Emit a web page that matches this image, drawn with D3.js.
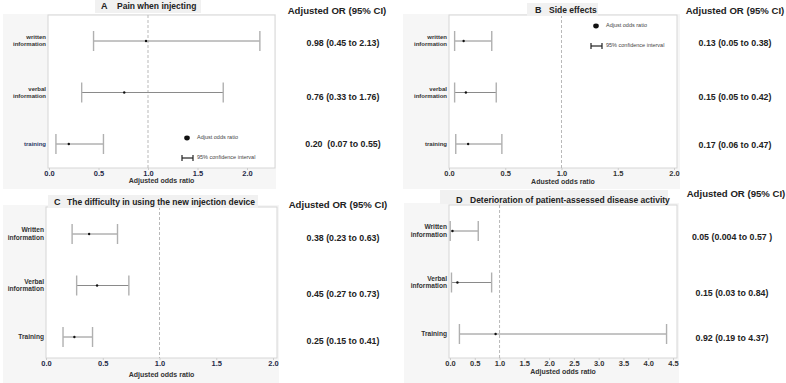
<!DOCTYPE html>
<html>
<head>
<meta charset="utf-8">
<script src="https://cdn.jsdelivr.net/npm/d3@7"></script>
<style>
  body { margin: 0; background: #fff; }
  svg { display: block; font-family: "Liberation Sans", Arial, sans-serif; }
  text { white-space: pre; }
</style>
</head>
<body>
<svg id="chart" width="786" height="383"></svg>
<script>
// categories
const categoriesLower = ["written information", "verbal information", "training"];
const categoriesUpper = ["Written information", "Verbal information", "Training"];

// A  pain when injecting
const painOR = [0.98, 0.76, 0.20];
const painLow = [0.45, 0.33, 0.07];
const painHigh = [2.13, 1.76, 0.55];
const painText = ["0.98 (0.45 to 2.13)", "0.76 (0.33 to 1.76)", "0.20  (0.07 to 0.55)"];

// B  side effects
const sideOR = [0.13, 0.15, 0.17];
const sideLow = [0.05, 0.05, 0.06];
const sideHigh = [0.38, 0.42, 0.47];
const sideText = ["0.13 (0.05 to 0.38)", "0.15 (0.05 to 0.42)", "0.17 (0.06 to 0.47)"];

// C  difficulty with device
const deviceOR = [0.38, 0.45, 0.25];
const deviceLow = [0.23, 0.27, 0.15];
const deviceHigh = [0.63, 0.73, 0.41];
const deviceText = ["0.38 (0.23 to 0.63)", "0.45 (0.27 to 0.73)", "0.25 (0.15 to 0.41)"];

// D  disease activity
const diseaseOR = [0.05, 0.15, 0.92];
const diseaseLow = [0.004, 0.03, 0.19];
const diseaseHigh = [0.57, 0.84, 4.37];
const diseaseText = ["0.05 (0.004 to 0.57 )", "0.15 (0.03 to 0.84)", "0.92 (0.19 to 4.37)"];

const ticks2 = [0, 0.5, 1.0, 1.5, 2.0];
const ticks45 = [0, 0.5, 1.0, 1.5, 2.0, 2.5, 3.0, 3.5, 4.0, 4.5];

const svg = d3.select("#chart");

const drawPanel = (p) => {
    const g = svg.append("g");

    // panel background + white plot area
    g.append("rect")
        .attr("x", p.bg[0]).attr("y", p.bg[1])
        .attr("width", p.bg[2] - p.bg[0]).attr("height", p.bg[3] - p.bg[1])
        .attr("fill", "#f6f6f6");
    g.append("rect")
        .attr("x", p.plot[0]).attr("y", p.plot[1])
        .attr("width", p.plot[2] - p.plot[0]).attr("height", p.plot[3] - p.plot[1])
        .attr("fill", "#fff")
        .attr("stroke", "#d6d6d6").attr("stroke-width", 1);

    const x = d3.scaleLinear().domain(p.domain).range(p.range);
    const y = d3.scalePoint().domain(p.categories).range(p.rows);

    // reference line at OR = 1
    g.append("line")
        .attr("x1", x(1)).attr("x2", x(1))
        .attr("y1", p.plot[1]).attr("y2", p.plot[3])
        .attr("stroke", "#b9b9b9").attr("stroke-dasharray", "3,2");

    // x axis
    const axis = g.append("g")
        .attr("transform", `translate(0,${p.plot[3]})`)
        .call(d3.axisBottom(x).tickValues(p.ticks).tickFormat(d3.format(".1f")).tickSize(2).tickPadding(1));
    axis.select(".domain").remove();
    axis.selectAll(".tick line").attr("stroke", "#ccc");
    axis.selectAll("text")
        .attr("font-size", 7.5).attr("font-weight", "bold")
        .attr("font-family", "Liberation Sans, Arial, sans-serif")
        .attr("fill", p.tickColor);

    g.append("text")
        .attr("x", (p.plot[0] + p.plot[2]) / 2).attr("y", p.axisLabelY)
        .attr("text-anchor", "middle")
        .attr("font-size", 7).attr("font-weight", "bold").attr("fill", "#333")
        .text(p.axisLabel);

    // category labels, two lines
    p.categories.forEach((c, i) => {
        const words = c.split(" ");
        const t = g.append("text")
            .attr("x", p.plot[0] - 2)
            .attr("y", y(c) + (words.length > 1 ? -4 : 0))
            .attr("dy", "0.35em")
            .attr("text-anchor", "end")
            .attr("font-size", p.labelSize).attr("font-weight", "bold")
            .attr("fill", (p.blueLast && i === 2) ? "#2b3a67" : "#333");
        words.forEach((w, j) => {
            t.append("tspan").attr("x", p.plot[0] - 2).attr("dy", j === 0 ? "0.35em" : "1.15em").text(w);
        });
        t.attr("dy", null);
    });

    // error bars
    const rows = p.categories.map((c, i) => ({ c, or: p.or[i], lo: p.low[i], hi: p.high[i] }));
    const bars = g.selectAll(".bar").data(rows).enter().append("g");
    bars.append("line")
        .attr("x1", d => x(d.lo)).attr("x2", d => x(d.hi))
        .attr("y1", d => y(d.c)).attr("y2", d => y(d.c))
        .attr("stroke", "#8a8a8a").attr("stroke-width", 1);
    bars.selectAll(".cap").data(d => [[d.lo, d.c], [d.hi, d.c]]).enter().append("line")
        .attr("x1", d => x(d[0])).attr("x2", d => x(d[0]))
        .attr("y1", d => y(d[1]) - 10).attr("y2", d => y(d[1]) + 10)
        .attr("stroke", "#b0b0b0").attr("stroke-width", 1.4);
    bars.append("circle")
        .attr("cx", d => x(d.or)).attr("cy", d => y(d.c))
        .attr("r", 1.2).attr("fill", "#111");

    // legend
    if (p.legend) {
        const lg = g.append("g").attr("transform", `translate(${p.legend[0]},${p.legend[1]})`);
        lg.append("ellipse").attr("cx", 0).attr("cy", 0).attr("rx", 2.8).attr("ry", 2.4).attr("fill", "#111");
        lg.append("text").attr("x", 10).attr("y", -1).attr("dy", "0.35em")
            .attr("font-size", 5.5).attr("fill", "#444").text("Adjust odds ratio");
        lg.append("line").attr("x1", -5).attr("x2", 6).attr("y1", 20).attr("y2", 20).attr("stroke", "#222").attr("stroke-width", 1.2);
        lg.append("line").attr("x1", -5).attr("x2", -5).attr("y1", 17).attr("y2", 23).attr("stroke", "#222").attr("stroke-width", 1.2);
        lg.append("line").attr("x1", 6).attr("x2", 6).attr("y1", 17).attr("y2", 23).attr("stroke", "#222").attr("stroke-width", 1.2);
        lg.append("text").attr("x", 10).attr("y", 19).attr("dy", "0.35em")
            .attr("font-size", 5.5).attr("fill", "#444").text("95% confidence interval");
    }

    // title
    g.append("rect")
        .attr("x", p.titleBox[0]).attr("y", p.titleBox[1])
        .attr("width", p.titleBox[2] - p.titleBox[0]).attr("height", p.titleBox[3] - p.titleBox[1])
        .attr("fill", "#f1f1f1");
    g.append("text")
        .attr("x", p.title[0]).attr("y", p.title[2]).attr("dy", "0.35em")
        .attr("font-size", 9).attr("font-weight", "bold").attr("fill", "#222")
        .text(p.letter);
    g.append("text")
        .attr("x", p.title[1]).attr("y", p.title[2]).attr("dy", "0.35em")
        .attr("font-size", 8.5).attr("font-weight", "bold").attr("fill", "#222")
        .text(p.titleText);

    // OR column
    g.append("text")
        .attr("x", p.head[0]).attr("y", p.head[1]).attr("dy", "0.35em")
        .attr("text-anchor", "middle")
        .attr("font-size", 9.6).attr("font-weight", "bold").attr("fill", "#222")
        .text("Adjusted OR (95% CI)");
    p.valText.forEach((t, i) => {
        g.append("text")
            .attr("x", p.valX).attr("y", p.valY[i]).attr("dy", "0.35em")
            .attr("text-anchor", "middle")
            .attr("font-size", 8.8).attr("font-weight", "bold").attr("fill", "#222")
            .text(t);
    });
};

drawPanel({
    letter: "A", titleText: "Pain when injecting", title: [101, 117, 6], titleBox: [95, 0, 201, 13],
    bg: [3, 14, 276, 189], plot: [48, 15, 275, 168],
    domain: [0, 2], range: [49, 247], rows: [41, 144], ticks: ticks2,
    categories: categoriesLower, or: painOR, low: painLow, high: painHigh,
    axisLabel: "Adjusted odds ratio", axisLabelY: 183, tickColor: "#1f2a48",
    labelSize: 6, blueLast: true, legend: [187, 138],
    head: [337, 11], valX: 343, valY: [43, 97, 144], valText: painText
});

drawPanel({
    letter: "B", titleText: "Side effects", title: [535, 549, 10], titleBox: [527, 3, 598, 16],
    bg: [403, 14, 680, 189], plot: [449, 15, 677, 168],
    domain: [0, 2], range: [449, 674], rows: [41, 144], ticks: ticks2,
    categories: categoriesLower, or: sideOR, low: sideLow, high: sideHigh,
    axisLabel: "Adusted odds ratio", axisLabelY: 184, tickColor: "#333",
    labelSize: 6, blueLast: false, legend: [596, 26],
    head: [735, 11], valX: 735, valY: [43, 97, 145], valText: sideText
});

drawPanel({
    letter: "C", titleText: "The difficulty in using the new injection device", title: [54, 67, 202], titleBox: [48, 195, 258, 208],
    bg: [3, 205, 279, 383], plot: [46, 207, 277, 358],
    domain: [0, 2], range: [46, 273], rows: [234, 337], ticks: ticks2,
    categories: categoriesUpper, or: deviceOR, low: deviceLow, high: deviceHigh,
    axisLabel: "Adjusted odds ratio", axisLabelY: 377, tickColor: "#1f2a48",
    labelSize: 6.6, blueLast: false, legend: null,
    head: [338, 205], valX: 343, valY: [238, 294, 341], valText: deviceText
});

drawPanel({
    letter: "D", titleText: "Deterioration of patient-assessed disease activity", title: [456, 470, 200], titleBox: [440, 190, 668, 204],
    bg: [404, 203, 679, 383], plot: [449, 205, 677, 358],
    domain: [0, 4.5], range: [450, 673], rows: [231, 334], ticks: ticks45,
    categories: categoriesUpper, or: diseaseOR, low: diseaseLow, high: diseaseHigh,
    axisLabel: "Adjusted odds ratio", axisLabelY: 374, tickColor: "#333",
    labelSize: 6.6, blueLast: false, legend: null,
    head: [736, 194], valX: 732, valY: [237, 293, 338], valText: diseaseText
});
</script>
</body>
</html>
